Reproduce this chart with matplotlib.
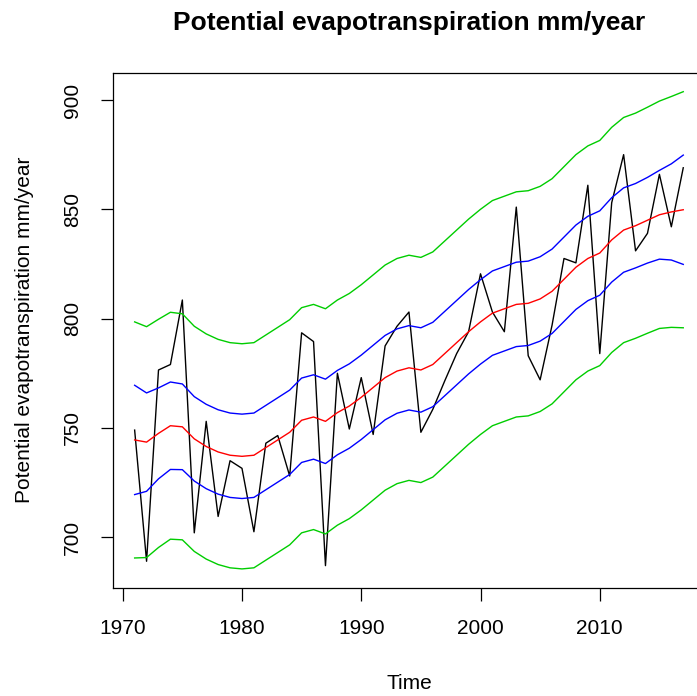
import matplotlib
matplotlib.use("Agg")
import matplotlib.pyplot as plt

plt.rcParams["font.family"] = ["Liberation Sans", "DejaVu Sans"]

# annual values, 1971-2017
years = list(range(1971, 2018))

observed = [749, 689, 776.5, 779, 808.5, 702, 753, 709.5, 735, 731.5,
            702.5, 743, 746.5, 728, 793.5, 789.5, 687, 775, 749.5, 773,
            747, 787.5, 796.5, 803, 748, 758.5, 771.5, 784, 794, 820.5,
            803, 794, 851, 783, 772, 797, 827.5, 825.5, 861, 784,
            853, 875, 831, 839, 866, 842, 869]

trend = [744.5, 743.5, 747.5, 751, 750.5, 745, 741.5, 739, 737.5, 737,
         737.5, 741, 744.5, 748, 753.5, 755, 753, 757, 760, 764,
         768.5, 773, 776, 777.5, 776.5, 779, 784, 789, 794, 798.5,
         802.5, 804.5, 806.5, 807, 809, 812.5, 818, 823.5, 827.5, 830,
         836, 840.5, 842.5, 845, 847.5, 848.8, 849.8]

blue_upper = [769.5, 766, 768.3, 771, 770.1, 764.3, 760.8, 758.3, 756.8, 756.3,
              756.8, 760.3, 763.8, 767.3, 772.8, 774.3, 772.3, 776.3, 779.3, 783.3,
              787.8, 792.3, 795.3, 796.8, 795.8, 798.3, 803.3, 808.3, 813.3, 817.8,
              821.8, 823.8, 825.8, 826.3, 828.3, 831.8, 837.3, 842.8, 846.8, 849.3,
              855.3, 859.8, 861.8, 864.6, 867.8, 870.8, 874.8]

blue_lower = [719.5, 721, 726.7, 731, 730.9, 725.7, 722.2, 719.7, 718.2, 717.7,
              718.2, 721.7, 725.2, 728.7, 734.2, 735.7, 733.7, 737.7, 740.7, 744.7,
              749.2, 753.7, 756.7, 758.2, 757.2, 759.7, 764.7, 769.7, 774.7, 779.2,
              783.2, 785.2, 787.2, 787.7, 789.7, 793.2, 798.7, 804.2, 808.2, 810.7,
              816.7, 821.2, 823.2, 825.4, 827.2, 826.8, 824.8]

green_upper = [798.5, 796.3, 799.7, 802.9, 802.2, 796.5, 793, 790.5, 789, 788.5,
               789, 792.5, 796, 799.5, 805, 806.5, 804.5, 808.5, 811.5, 815.5,
               820, 824.5, 827.5, 829, 828, 830.5, 835.5, 840.5, 845.5, 850,
               854, 856, 858, 858.5, 860.5, 864, 869.5, 875, 879, 881.5,
               887.5, 892, 894, 896.7, 899.5, 901.6, 903.8]

green_lower = [690.5, 690.7, 695.3, 699.1, 698.8, 693.5, 690, 687.5, 686, 685.5,
               686, 689.5, 693, 696.5, 702, 703.5, 701.5, 705.5, 708.5, 712.5,
               717, 721.5, 724.5, 726, 725, 727.5, 732.5, 737.5, 742.5, 747,
               751, 753, 755, 755.5, 757.5, 761, 766.5, 772, 776, 778.5,
               784.5, 789, 791, 793.3, 795.5, 796, 795.8]

x_ticks = [1970, 1980, 1990, 2000, 2010]
y_ticks = [700, 750, 800, 850, 900]

W, H = 697, 696
fig = plt.figure(figsize=(W / 100, H / 100), dpi=100)
# R-style plot region; the right edge of the box falls outside the picture
ax = fig.add_axes([112.7 / W, (H - 588) / H, 592.5 / W, (588 - 72.6) / H])

ax.plot(years, observed, color="black", lw=1.0)
ax.plot(years, trend, color="#FF0000", lw=1.0)
ax.plot(years, blue_upper, color="#0000FF", lw=1.0)
ax.plot(years, blue_lower, color="#0000FF", lw=1.0)
ax.plot(years, green_upper, color="#00CD00", lw=1.0)
ax.plot(years, green_lower, color="#00CD00", lw=1.0)

# R pads the data range by 4% on each side
x0, x1 = years[0], years[-1]
lo = min(green_lower + observed)
hi = max(green_upper + observed)
ax.set_xlim(x0 - 0.04 * (x1 - x0), x1 + 0.04 * (x1 - x0))
ax.set_ylim(lo - 0.04 * (hi - lo), hi + 0.04 * (hi - lo))

ax.set_xticks(x_ticks)
ax.set_yticks(y_ticks)
ax.set_yticklabels([str(v) for v in y_ticks], rotation=90, va="center")
ax.tick_params(direction="out", length=9, width=0.9, labelsize=15, pad=13,
               colors="black")
for s in ax.spines.values():
    s.set_linewidth(0.9)

ax.set_xlabel("Time", fontsize=15, labelpad=26)
ax.set_ylabel("Potential evapotranspiration mm/year", fontsize=15, labelpad=21)
ax.set_title("Potential evapotranspiration mm/year", fontsize=19,
             fontweight="bold", pad=31)

fig.savefig("out.png", dpi=100)
